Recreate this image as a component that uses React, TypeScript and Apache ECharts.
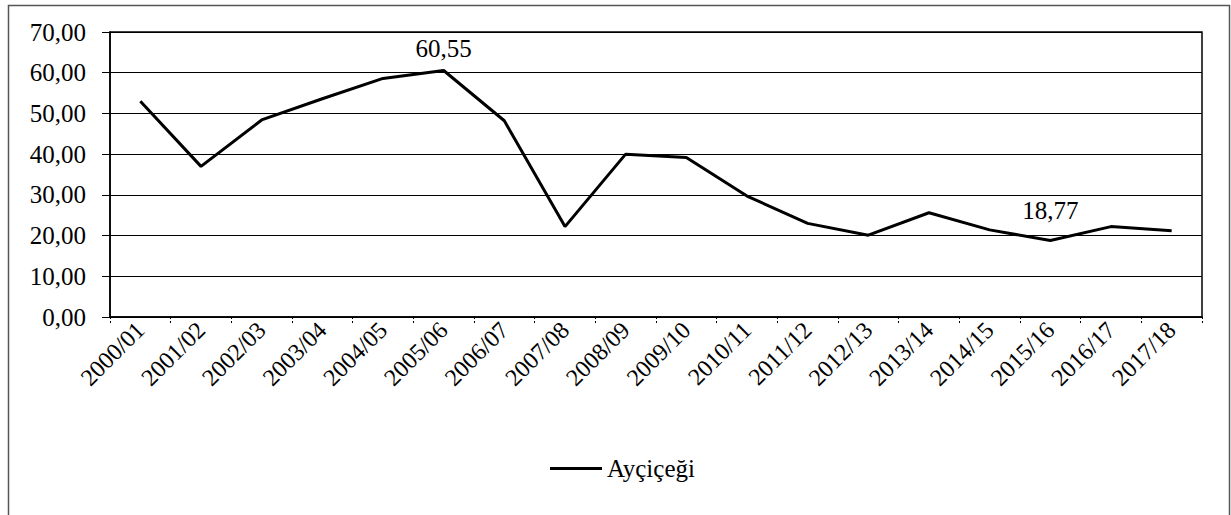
import React, { useEffect, useRef } from "react";
import * as echarts from "echarts";

const categories = [
  "2000/01", "2001/02", "2002/03", "2003/04", "2004/05", "2005/06",
  "2006/07", "2007/08", "2008/09", "2009/10", "2010/11", "2011/12",
  "2012/13", "2013/14", "2014/15", "2015/16", "2016/17", "2017/18",
];
const seriesName = "Ayçiçeği";
const values = [
  53.0, 37.0, 48.4, 53.6, 58.6, 60.55, 48.2, 22.2, 40.0, 39.2, 29.7, 23.0,
  20.1, 25.6, 21.4, 18.77, 22.2, 21.2,
];
const labelledIndices = [5, 15];

// styling only
const LABEL_DISTANCE: Record<number, number> = { 5: 9, 15: 18 };
const FONT = "Times New Roman, Liberation Serif, DejaVu Serif, serif";
const FS = 25;

export default function App() {
  const ref = useRef<HTMLDivElement>(null);
  useEffect(() => {
    if (!ref.current) return;
    const chart = echarts.init(ref.current, null, { renderer: "svg" });
    const fmt = (v: number) => v.toFixed(2).replace(".", ",");
    chart.setOption({
      animation: false,
      backgroundColor: "#ffffff",
      textStyle: { fontFamily: FONT, color: "#000" },
      graphic: [
        {
          type: "rect",
          shape: { x: 8.5, y: 5.5, width: 1221, height: 520 },
          style: { fill: "none", stroke: "#555", lineWidth: 1.5 },
          silent: true,
        },
      ],
      grid: {
        left: 110,
        right: 29,
        top: 32,
        bottom: 198,
        show: true,
        borderColor: "#000",
        borderWidth: 1.5,
        backgroundColor: "transparent",
      },
      legend: {
        left: 545,
        top: 451,
        itemWidth: 52,
        itemHeight: 3,
        data: [{ name: seriesName, icon: "rect" }],
        textStyle: { fontFamily: FONT, fontSize: FS, color: "#000" },
        selectedMode: false,
      },
      xAxis: {
        type: "category",
        data: categories,
        boundaryGap: true,
        axisLine: { show: true, lineStyle: { color: "#000", width: 1.5 } },
        axisTick: {
          show: true,
          interval: 0,
          length: 6,
          lineStyle: { color: "#000", width: 1, type: [2, 2] },
        },
        axisLabel: {
          interval: 0,
          rotate: 45,
          margin: 9,
          fontFamily: FONT,
          fontSize: 24,
          color: "#000",
        },
        splitLine: { show: false },
      },
      yAxis: {
        type: "value",
        min: 0,
        max: 70,
        interval: 10,
        axisLine: { show: true, lineStyle: { color: "#000", width: 1.5 } },
        axisTick: { show: true, length: 8, lineStyle: { color: "#000" } },
        axisLabel: {
          formatter: (v: number) => fmt(v),
          fontFamily: FONT,
          fontSize: FS,
          color: "#000",
          margin: 24,
        },
        splitLine: { show: true, lineStyle: { color: "#000", width: 1 } },
      },
      series: [
        {
          name: seriesName,
          type: "line",
          data: values.map((v, i) =>
            labelledIndices.includes(i)
              ? {
                  value: v,
                  label: {
                    show: true,
                    position: "top",
                    distance: LABEL_DISTANCE[i] ?? 10,
                    formatter: () => fmt(v),
                    fontFamily: FONT,
                    fontSize: FS,
                    color: "#000",
                  },
                }
              : v
          ),
          symbol: "circle",
          symbolSize: 0,
          showSymbol: true,
          showAllSymbol: true,
          lineStyle: { color: "#000", width: 3 },
          itemStyle: { color: "#000" },
        },
      ],
    });
    return () => chart.dispose();
  }, []);
  return (
    <div
      ref={ref}
      style={{ position: "fixed", left: 0, top: 0, width: 1231, height: 515 }}
    />
  );
}
